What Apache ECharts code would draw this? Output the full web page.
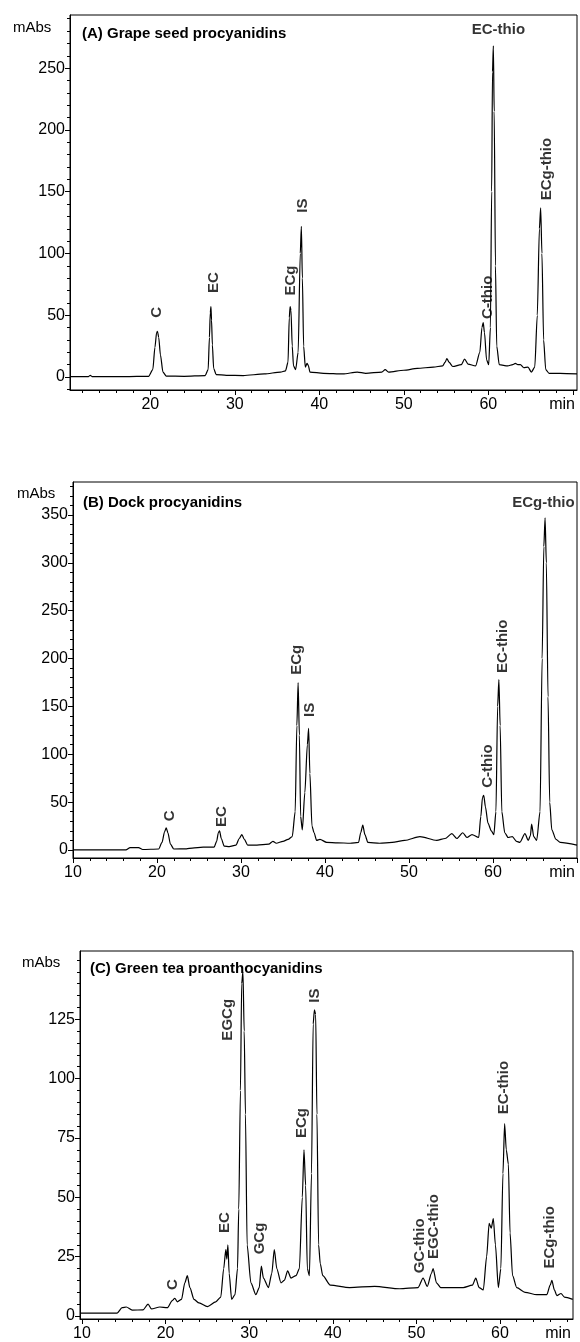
<!DOCTYPE html>
<html>
<head>
<meta charset="utf-8">
<script src="https://cdn.jsdelivr.net/npm/echarts@6/dist/echarts.min.js"></script>
<style>
html, body { margin: 0; padding: 0; background: #fff; }
#chart { width: 580px; height: 1342px; }
</style>
</head>
<body>
<div id="chart"></div>
<script>
// chromatogram traces, [time (min), absorbance (mAbs)]

// (A) grape seed
var traceA = [
    [10.5,0.3],[12.7,0.4],[12.9,1.4],[13.1,0.4],[17,0.3],[19.8,0.6],[20.3,6],[20.55,24],[20.75,36],[20.85,37],
    [21.0,32],[21.2,18],[21.5,4],[21.9,0.8],[24,0.6],[26.5,1.2],[26.85,6],[27.0,32],[27.1,52],[27.18,57],
    [27.25,46],[27.35,26],[27.5,7],[27.8,2],[29,1.4],[31,1.2],[33.5,2.5],[35.4,4],[36.0,5],[36.3,12],
    [36.45,48],[36.55,57],[36.65,54],[36.8,25],[36.95,9],[37.2,6],[37.5,20],[37.75,100],[37.88,122],[38.0,80],
    [38.15,25],[38.35,8],[38.55,11],[38.7,9.5],[38.9,4],[40.5,3],[42.8,2.5],[44.5,4],[45.5,3],[47.4,4],
    [47.8,6],[48.2,4],[50,5.5],[51.6,7],[53.5,8],[54.6,9],[54.9,12],[55.1,15],[55.35,12],[55.8,8.5],
    [56.8,10],[57.2,14.5],[57.6,10.5],[58.5,9],[59.0,20],[59.25,40],[59.4,44],[59.55,36],[59.8,14],[60.05,10],
    [60.25,40],[60.4,150],[60.5,247],[60.6,268],[60.7,215],[60.85,90],[61.0,25],[61.3,10],[62.3,9],[62.9,10],
    [63.2,11],[63.5,10],[63.8,10],[64.2,7.5],[64.7,8],[65.1,4],[65.5,8],[65.8,50],[66.05,120],[66.2,137],
    [66.35,100],[66.55,30],[66.8,6],[67.2,3],[68.5,3],[70.5,2.5]
];

// (B) dock
var traceB = [
    [10,0],[16.3,0],[16.8,2.5],[17.8,2.5],[18.3,0.5],[20.2,1],[20.6,8],[20.9,19],[21.1,23],[21.3,18],
    [21.6,6],[22.0,1],[23.5,1.2],[24.2,2],[25.5,3],[26.8,3],[27.1,9],[27.3,18],[27.45,20],[27.65,12],
    [28.0,4],[28.6,3.5],[29.4,5],[29.8,12],[30.1,16],[30.4,11],[30.8,5],[31.9,5],[33.3,6],[33.8,9],
    [34.2,7],[35.0,9],[35.6,11],[36.1,14],[36.45,40],[36.65,130],[36.8,175],[36.95,120],[37.1,35],[37.3,21],
    [37.6,60],[37.9,110],[38.05,127],[38.2,80],[38.45,25],[38.7,18],[39.0,10],[39.4,11],[40.2,8],[41.5,7.5],
    [43,7],[44.0,8],[44.25,18],[44.5,26],[44.75,16],[45.1,8],[46.5,7],[48,8],[49.5,10],[51.3,14],
    [53.3,10],[54.3,12],[55.1,17],[55.7,12],[56.4,18],[56.9,13],[57.5,16],[58.3,13],[58.55,35],[58.75,55],
    [58.9,57],[59.1,45],[59.4,28],[59.8,20],[60.1,16],[60.35,40],[60.55,150],[60.7,178],[60.85,130],[61.05,40],
    [61.4,18],[61.8,13],[62.3,14],[62.8,9],[63.2,8],[63.8,17],[64.2,10],[64.45,15],[64.6,27],[64.85,14],
    [65.2,10],[65.6,40],[65.85,200],[66.05,317],[66.2,347],[66.35,300],[66.55,160],[66.75,50],[67.0,21],[67.5,11],
    [68.0,8],[70,5]
];

// (C) green tea
var traceC = [
    [9.76,1.2],[14.2,1.2],[14.8,3.5],[15.3,3.8],[16,2.5],[17.3,2.6],[17.9,5],[18.3,3],[19.3,3.8],[20.2,3.5],
    [20.8,6.5],[21.1,7.5],[21.4,6],[21.9,7],[22.3,14],[22.6,17],[22.9,12],[23.4,7],[24,5.5],[25,4],
    [26,6],[26.6,8],[26.95,20],[27.2,28],[27.32,24],[27.45,30],[27.6,18],[27.9,7],[28.3,9],[28.6,20],
    [28.75,45],[28.95,95],[29.1,140],[29.25,145],[29.4,120],[29.55,85],[29.75,30],[30.2,14],[30.8,9],[31.2,12],
    [31.45,21],[31.7,16],[32.3,12],[32.7,18],[33.0,28],[33.3,20],[33.8,14],[34.2,15],[34.6,19],[35.0,16],
    [35.6,17],[36.0,20],[36.35,50],[36.55,70],[36.75,55],[36.95,20],[37.2,17],[37.45,60],[37.65,123],[37.8,129],
    [37.95,127],[38.1,85],[38.3,30],[38.5,22],[38.8,17],[39.7,13],[42,12],[45,12.5],[48,11.5],[50.2,12],
    [50.8,16],[51.3,12.5],[51.8,18],[52.0,20],[52.4,14],[52.9,12],[55.6,12],[56.7,13],[57.1,16],[57.5,12],
    [58.0,11],[58.4,25],[58.7,39],[58.95,37],[59.2,41],[59.45,30],[59.8,12],[60.1,20],[60.35,60],[60.55,81],
    [60.75,70],[61.0,64],[61.2,35],[61.5,17],[62,12],[63,10],[64.4,9],[65.6,9],[66.0,13],[66.2,15],
    [66.5,11],[66.8,8.6],[67.3,9.5],[67.7,8],[68.7,7]
];

// peak labels: name, time, value at the foot of the (vertical) text
var labelsA = [['C',20.8,48],['EC',27.5,68],['ECg',36.6,66],['IS',38.1,133],['C-thio',60.0,47],['ECg-thio',66.9,143]];
var flatLabelsA = [['EC-thio',61.2,281]];
var labelsB = [['C',21.5,30],['EC',27.7,24],['ECg',36.7,183],['IS',38.2,139],['C-thio',59.4,65],['EC-thio',61.2,185]];
var flatLabelsB = [['ECg-thio',66.0,363]];
var labelsC = [['C',20.9,11],['EC',27.1,35],['EGCg',27.5,116],['GCg',31.3,26],['ECg',36.3,75],['IS',37.9,132],
    ['GC-thio',50.4,18],['EGC-thio',52.1,24],['EC-thio',60.4,85],['ECg-thio',66.0,20]];
var flatLabelsC = [];

// axis ticks
var xTicksA = [20,30,40,50,60,70];
var xLabelsA = [20,30,40,50,60];
var yLabelsA = [0,50,100,150,200,250];
var xTicksB = [10,20,30,40,50,60,70];
var xLabelsB = [10,20,30,40,50,60];
var yLabelsB = [0,50,100,150,200,250,300,350];
var xTicksC = [10,20,30,40,50,60];
var xLabelsC = [10,20,30,40,50,60];
var yLabelsC = [0,25,50,75,100,125];

var titles = ['(A) Grape seed procyanidins', '(B) Dock procyanidins', '(C) Green tea proanthocyanidins'];

var FONT = '"Liberation Sans", Arial, sans-serif';

function range(a, b, step) {
    var out = [];
    for (var v = a; v <= b + 1e-9; v += step) out.push(Math.round(v * 100) / 100);
    return out;
}

var panels = [
    { trace: traceA, labels: labelsA, flat: flatLabelsA, xTicks: xTicksA, xLabels: xLabelsA, yLabels: yLabelsA,
      xMinor: range(12, 70, 2), yMinor: range(-10, 290, 10),
      xRange: [10.5, 70.5], yRange: [-10.5, 293], box: [70, 15, 507, 375], titlePos: [82, 26], unitPos: [13, 20] },
    { trace: traceB, labels: labelsB, flat: flatLabelsB, xTicks: xTicksB, xLabels: xLabelsB, yLabels: yLabelsB,
      xMinor: range(12, 68, 2), yMinor: range(0, 380, 10),
      xRange: [10, 70], yRange: [-8.4, 384.5], box: [73, 482, 504, 376], titlePos: [83, 495], unitPos: [17, 486] },
    { trace: traceC, labels: labelsC, flat: flatLabelsC, xTicks: xTicksC, xLabels: xLabelsC, yLabels: yLabelsC,
      xMinor: range(12, 68, 2), yMinor: range(0, 150, 5),
      xRange: [9.76, 68.73], yRange: [-1.25, 153.75], box: [80, 951, 493, 372], titlePos: [90, 961], unitPos: [22, 955] }
];

var grids = [], xAxes = [], yAxes = [], series = [], titleList = [];

panels.forEach(function (p, i) {
    grids.push({
        left: p.box[0], top: p.box[1], width: p.box[2], height: p.box[3],
        show: true, borderColor: '#000', borderWidth: 1, backgroundColor: 'transparent'
    });

    // main x axis + one only for the small ticks
    xAxes.push({
        gridIndex: i, type: 'value', position: 'bottom', min: p.xRange[0], max: p.xRange[1],
        axisLine: { onZero: false, lineStyle: { color: '#000', width: 1 } },
        axisTick: { customValues: p.xTicks, length: 5, lineStyle: { color: '#000' } },
        axisLabel: { customValues: p.xLabels, color: '#000', fontSize: 16, fontFamily: FONT, margin: 7 },
        splitLine: { show: false },
        name: 'min', nameLocation: 'end', nameGap: -2,
        nameTextStyle: { color: '#000', fontSize: 16, fontFamily: FONT, align: 'right', verticalAlign: 'top', padding: [7, 0, 0, 0] }
    });
    xAxes.push({
        gridIndex: i, type: 'value', position: 'bottom', min: p.xRange[0], max: p.xRange[1],
        axisLine: { show: false, onZero: false },
        axisTick: { customValues: p.xMinor, length: 3, lineStyle: { color: '#000' } },
        axisLabel: { show: false }, splitLine: { show: false }
    });

    yAxes.push({
        gridIndex: i, type: 'value', position: 'left', min: p.yRange[0], max: p.yRange[1],
        axisLine: { onZero: false, lineStyle: { color: '#000', width: 1 } },
        axisTick: { customValues: p.yLabels, length: 5, lineStyle: { color: '#000' } },
        axisLabel: { customValues: p.yLabels, color: '#000', fontSize: 16, fontFamily: FONT, margin: 5 },
        splitLine: { show: false }
    });
    yAxes.push({
        gridIndex: i, type: 'value', position: 'left', min: p.yRange[0], max: p.yRange[1],
        axisLine: { show: false, onZero: false },
        axisTick: { customValues: p.yMinor, length: 3, lineStyle: { color: '#000' } },
        axisLabel: { show: false }, splitLine: { show: false }
    });

    series.push({
        type: 'line', xAxisIndex: 2 * i, yAxisIndex: 2 * i,
        data: p.trace, showSymbol: false, smooth: 0.25, smoothMonotone: 'x',
        lineStyle: { color: '#000', width: 1.2 }, silent: true, animation: false
    });

    var labelData = p.labels.map(function (l) {
        return { name: l[0], value: [l[1], l[2]] };
    });
    p.flat.forEach(function (l) {
        labelData.push({
            name: l[0], value: [l[1], l[2]],
            label: { rotate: 0, align: 'center', verticalAlign: 'middle' }
        });
    });
    series.push({
        type: 'scatter', xAxisIndex: 2 * i, yAxisIndex: 2 * i,
        data: labelData, symbolSize: 1, itemStyle: { color: 'transparent' },
        label: {
            show: true, formatter: '{b}', position: 'inside', rotate: 90,
            align: 'left', verticalAlign: 'middle',
            color: '#000', fontSize: 15, fontWeight: 'bold', fontFamily: FONT
        },
        silent: true, animation: false
    });

    titleList.push({
        text: titles[i], left: p.titlePos[0], top: p.titlePos[1], padding: 0,
        textStyle: { color: '#000', fontSize: 15, fontWeight: 'bold', fontFamily: FONT }
    });
    titleList.push({
        text: 'mAbs', left: p.unitPos[0], top: p.unitPos[1], padding: 0,
        textStyle: { color: '#000', fontSize: 15, fontWeight: 'normal', fontFamily: FONT }
    });
});

var myChart = echarts.init(document.getElementById('chart'), null, { renderer: 'canvas' });
var option = {
    backgroundColor: '#fff',
    animation: false,
    title: titleList,
    grid: grids,
    xAxis: xAxes,
    yAxis: yAxes,
    series: series
};
option && myChart.setOption(option);
</script>
</body>
</html>
